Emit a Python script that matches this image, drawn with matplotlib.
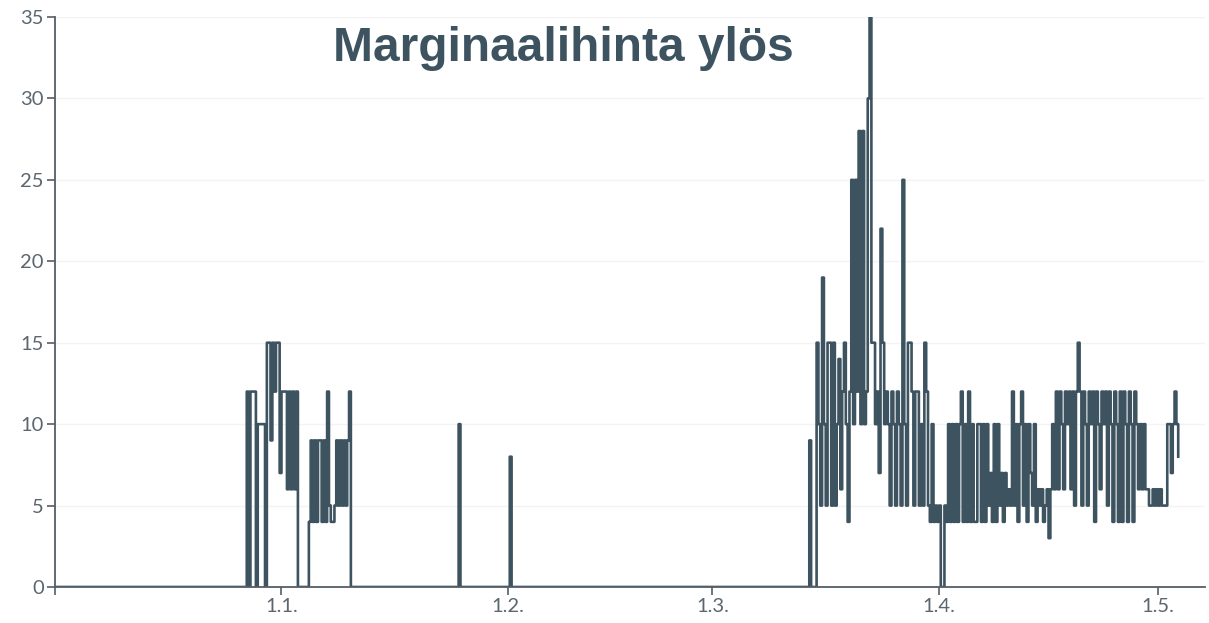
import numpy as np
import pandas as pd
import matplotlib
matplotlib.use("Agg")
import matplotlib.pyplot as plt

# Upward marginal price, 6-hour steps
series_start = "2024-12-01"
series_end = "2025-05-04"
step = "6h"

# 27.12. - 10.1., one row per day (4 values)
dec_start = "2024-12-27"
dec_values = [
    [0, 12, 0, 12], [12, 12, 0, 10], [10, 10, 10, 0], [15, 15, 9, 15],
    [12, 15, 15, 7], [12, 12, 12, 6], [12, 6, 12, 6], [12, 0, 0, 0],
    [0, 0, 0, 4], [9, 4, 9, 4], [9, 9, 4, 9], [4, 12, 5, 4],
    [4, 5, 9, 5], [9, 5, 9, 5], [9, 12, 0, 0],
]

# single spikes
spike_times = ["2025-01-25 06:00", "2025-02-01 06:00"]
spike_values = [10, 8]

# 14.3. - 3.5., one row per day (4 values)
mar_start = "2025-03-14"
mar_values = [
    [0, 9, 0, 0], [0, 15, 10, 5], [19, 10, 5, 15], [15, 5, 15, 5],
    [10, 14, 6, 12], [15, 10, 4, 12], [25, 10, 25, 12], [28, 10, 28, 10],
    [12, 30, 35, 15], [15, 10, 12, 7], [22, 15, 10, 12], [10, 5, 12, 10],
    [5, 12, 10, 5], [25, 10, 5, 15], [15, 12, 5, 12], [12, 5, 10, 5],
    [15, 12, 5, 4], [10, 4, 5, 4], [5, 0, 0, 5], [4, 10, 4, 10],
    [4, 10, 4, 10], [12, 4, 10, 4], [12, 4, 10, 4], [4, 10, 10, 4],
    [10, 4, 10, 5], [7, 4, 10, 4], [10, 5, 7, 4], [7, 5, 6, 5],
    [12, 5, 10, 4], [10, 12, 5, 10], [4, 10, 7, 5], [10, 4, 6, 5],
    [6, 4, 5, 6], [3, 6, 10, 6], [12, 6, 12, 10], [6, 12, 10, 12],
    [6, 12, 5, 12], [15, 12, 5, 12], [10, 5, 12, 10], [12, 4, 12, 10],
    [6, 12, 10, 12], [5, 12, 10, 4], [12, 10, 4, 12], [4, 12, 10, 4],
    [12, 10, 4, 12], [10, 6, 10, 6], [10, 6, 6, 5], [5, 6, 5, 6],
    [5, 6, 5, 5], [5, 10, 10, 7], [10, 12, 10, 8],
]

tick_dates = ["2025-01-01", "2025-02-01", "2025-03-01", "2025-04-01", "2025-05-01"]
tick_labels = ["1.1.", "1.2.", "1.3.", "1.4.", "1.5."]
y_ticks = [0, 5, 10, 15, 20, 25, 30, 35]

# assemble the series (zero where the chart shows zero)
idx = pd.date_range(series_start, series_end, freq=step, inclusive="left")
s = pd.Series(0.0, index=idx)
for start, rows in [(dec_start, dec_values), (mar_start, mar_values)]:
    vals = np.array(rows, dtype=float).ravel()
    i0 = idx.get_loc(pd.Timestamp(start))
    s.iloc[i0:i0 + len(vals)] = vals
for t, v in zip(spike_times, spike_values):
    s[pd.Timestamp(t)] = v

line_color = "#3d5360"
axis_color = "#555d66"
label_color = "#5b666f"

fig = plt.figure(figsize=(12.09, 6.23), dpi=100)
ax = fig.add_axes([55 / 1209, 1 - 587 / 623, 1150 / 1209, 570 / 623])

ax.step(s.index, s.values, where="post", color=line_color, linewidth=1.9)

ax.set_xlim(pd.Timestamp(series_start), pd.Timestamp("2025-05-07 10:00"))
ax.set_ylim(0, 35)

ax.set_xticks(pd.to_datetime(tick_dates))
ax.set_xticklabels(tick_labels)
ax.set_xticks([pd.Timestamp(series_start)], minor=True)
ax.set_yticks(y_ticks)

for side in ["top", "right"]:
    ax.spines[side].set_visible(False)
for side in ["left", "bottom"]:
    ax.spines[side].set_color(axis_color)
    ax.spines[side].set_linewidth(1.3)

ax.tick_params(axis="both", which="both", length=6, width=1.2, color=axis_color,
               labelsize=14.5, labelcolor=label_color)
ax.tick_params(axis="x", pad=2)
ax.tick_params(axis="y", pad=2)
for lab in ax.get_xticklabels() + ax.get_yticklabels():
    lab.set_fontfamily("Lato")

ax.grid(axis="y", color="#f3f3f3", linewidth=1)
ax.set_axisbelow(True)

fig.text(0.466, 1 - 61 / 623, "Marginaalihinta ylös", ha="center", va="baseline",
         fontsize=34.5, fontweight="bold", color=line_color,
         family=["Liberation Sans", "DejaVu Sans"])

fig.savefig("out.png", dpi=100)
